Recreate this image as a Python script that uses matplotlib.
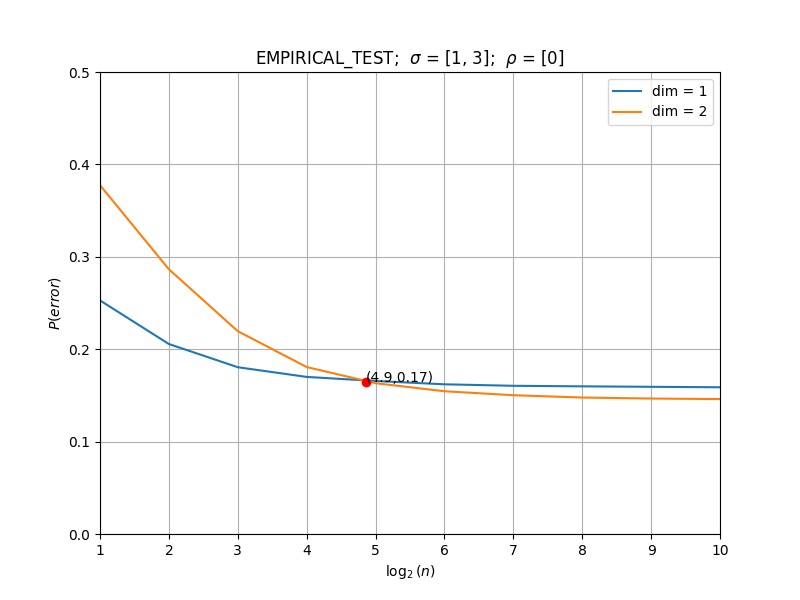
import matplotlib
matplotlib.use("Agg")
import matplotlib.pyplot as plt

log2n = [1, 2, 3, 4, 5, 6, 7, 8, 9, 10]
dim1 = [0.2528, 0.2056, 0.1805, 0.1700, 0.1656, 0.1620, 0.1604, 0.1598, 0.1593, 0.1588]
dim2 = [0.3775, 0.2865, 0.2195, 0.1807, 0.1632, 0.1545, 0.1502, 0.1477, 0.1466, 0.1460]
cross_x = 4.86
cross_y = 0.1650
cross_label = "(4.9,0.17)"

fig, ax = plt.subplots(figsize=(8, 6), dpi=100)
ax.plot(log2n, dim1, label="dim = 1")
ax.plot(log2n, dim2, label="dim = 2")
ax.plot([cross_x], [cross_y], "o", color="red")
ax.text(cross_x, cross_y, cross_label)
ax.set_xlim(1, 10)
ax.set_ylim(0, 0.5)
ax.set_xticks(log2n)
ax.grid(True)
ax.set_xlabel(r"$\log_2(n)$")
ax.set_ylabel(r"$P(error)$")
ax.set_title(r"EMPIRICAL_TEST;  $\sigma$ = [1, 3];  $\rho$ = [0]")
ax.legend(loc="upper right")
fig.savefig("out.png")
